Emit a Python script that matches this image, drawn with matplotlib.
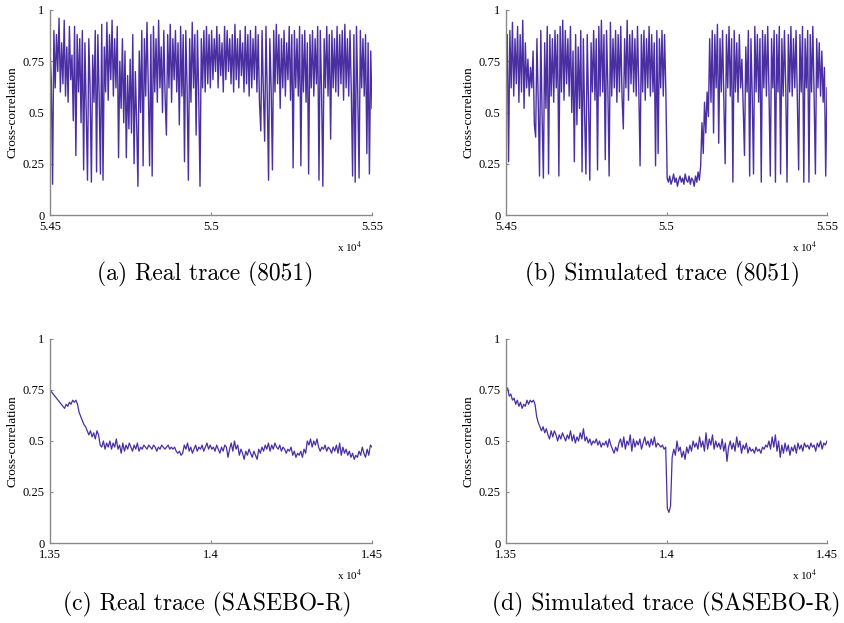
import numpy as np
import matplotlib
matplotlib.use("Agg")
import matplotlib.pyplot as plt

# Trace (a): real 8051, samples 5.45e4 .. 5.55e4
real_8051 = [
    0.80, 0.66, 0.15, 0.90, 0.62, 0.88, 0.70, 0.96, 0.60, 0.84,
    0.64, 0.95, 0.58, 0.82, 0.55, 0.92, 0.66, 0.78, 0.46, 0.92,
    0.29, 0.88, 0.60, 0.86, 0.45, 0.90, 0.22, 0.84, 0.50, 0.17,
    0.86, 0.62, 0.16, 0.78, 0.55, 0.90, 0.21, 0.88, 0.58, 0.20,
    0.93, 0.17, 0.82, 0.60, 0.94, 0.56, 0.88, 0.66, 0.95, 0.58,
    0.86, 0.62, 0.92, 0.28, 0.75, 0.52, 0.86, 0.45, 0.80, 0.28,
    0.68, 0.42, 0.76, 0.40, 0.88, 0.25, 0.70, 0.45, 0.14, 0.80,
    0.50, 0.90, 0.24, 0.86, 0.58, 0.94, 0.62, 0.24, 0.88, 0.19,
    0.92, 0.60, 0.86, 0.55, 0.95, 0.62, 0.82, 0.50, 0.90, 0.58,
    0.39, 0.88, 0.62, 0.93, 0.55, 0.86, 0.66, 0.90, 0.60, 0.84,
    0.44, 0.92, 0.58, 0.88, 0.26, 0.90, 0.62, 0.17, 0.86, 0.55,
    0.94, 0.62, 0.88, 0.39, 0.90, 0.58, 0.14, 0.86, 0.62, 0.90,
    0.60, 0.92, 0.64, 0.88, 0.62, 0.90, 0.66, 0.86, 0.70, 0.92,
    0.62, 0.88, 0.68, 0.84, 0.60, 0.92, 0.66, 0.90, 0.70, 0.86,
    0.64, 0.88, 0.60, 0.93, 0.66, 0.86, 0.62, 0.90, 0.68, 0.84,
    0.60, 0.92, 0.64, 0.88, 0.58, 0.90, 0.62, 0.86, 0.66, 0.92,
    0.60, 0.88, 0.55, 0.41, 0.90, 0.60, 0.36, 0.92, 0.58, 0.17,
    0.86, 0.62, 0.22, 0.90, 0.60, 0.93, 0.64, 0.88, 0.52, 0.86,
    0.62, 0.90, 0.58, 0.84, 0.66, 0.92, 0.56, 0.88, 0.23, 0.90,
    0.62, 0.86, 0.58, 0.92, 0.24, 0.88, 0.60, 0.90, 0.55, 0.84,
    0.20, 0.88, 0.62, 0.90, 0.58, 0.86, 0.64, 0.92, 0.17, 0.90,
    0.60, 0.14, 0.86, 0.62, 0.92, 0.58, 0.88, 0.37, 0.90, 0.62,
    0.86, 0.60, 0.92, 0.58, 0.88, 0.64, 0.90, 0.56, 0.93, 0.62,
    0.86, 0.58, 0.90, 0.60, 0.19, 0.88, 0.16, 0.92, 0.58, 0.18,
    0.90, 0.62, 0.86, 0.58, 0.88, 0.30, 0.84, 0.20, 0.80, 0.52,
]

# Trace (b): simulated 8051
sim_8051 = [
    0.70, 0.88, 0.26, 0.90, 0.62, 0.94, 0.58, 0.86, 0.64, 0.92,
    0.55, 0.88, 0.60, 0.95, 0.52, 0.84, 0.62, 0.76, 0.58, 0.72,
    0.62, 0.80, 0.44, 0.38, 0.86, 0.55, 0.19, 0.90, 0.48, 0.18,
    0.84, 0.52, 0.92, 0.20, 0.88, 0.58, 0.86, 0.55, 0.90, 0.62,
    0.88, 0.19, 0.92, 0.60, 0.95, 0.56, 0.90, 0.64, 0.86, 0.58,
    0.92, 0.50, 0.80, 0.26, 0.88, 0.44, 0.82, 0.52, 0.90, 0.21,
    0.86, 0.48, 0.20, 0.88, 0.55, 0.17, 0.84, 0.60, 0.90, 0.56,
    0.86, 0.22, 0.92, 0.58, 0.95, 0.60, 0.88, 0.27, 0.90, 0.62,
    0.19, 0.94, 0.58, 0.86, 0.62, 0.90, 0.55, 0.88, 0.60, 0.92,
    0.58, 0.42, 0.86, 0.62, 0.95, 0.56, 0.88, 0.64, 0.90, 0.60,
    0.86, 0.58, 0.92, 0.62, 0.24, 0.88, 0.60, 0.90, 0.56, 0.86,
    0.62, 0.92, 0.58, 0.88, 0.60, 0.84, 0.24, 0.90, 0.30, 0.86,
    0.62, 0.90, 0.58, 0.88, 0.60,
    0.18, 0.16, 0.19, 0.15, 0.17, 0.20, 0.16, 0.18, 0.14, 0.17,
    0.19, 0.16, 0.18, 0.15, 0.20, 0.17, 0.16, 0.19, 0.15, 0.18,
    0.17, 0.14, 0.19, 0.16, 0.21, 0.17,
    0.24, 0.45, 0.30, 0.55, 0.40, 0.60, 0.48, 0.86, 0.55, 0.90,
    0.40, 0.88, 0.62, 0.93, 0.35, 0.86, 0.60, 0.90, 0.55, 0.25,
    0.88, 0.62, 0.92, 0.58, 0.86, 0.16, 0.90, 0.60, 0.84, 0.55,
    0.88, 0.62, 0.76, 0.52, 0.29, 0.82, 0.60, 0.90, 0.19, 0.86,
    0.58, 0.20, 0.92, 0.60, 0.88, 0.55, 0.86, 0.16, 0.90, 0.62,
    0.88, 0.58, 0.92, 0.60, 0.19, 0.86, 0.62, 0.90, 0.16, 0.88,
    0.60, 0.92, 0.20, 0.86, 0.58, 0.90, 0.62, 0.16, 0.88, 0.60,
    0.92, 0.58, 0.86, 0.62, 0.90, 0.56, 0.22, 0.88, 0.60, 0.92,
    0.16, 0.86, 0.62, 0.90, 0.16, 0.88, 0.60, 0.92, 0.58, 0.20,
    0.86, 0.62, 0.84, 0.58, 0.80, 0.55, 0.72, 0.19, 0.62,
]

# Trace (c): real SASEBO-R, samples 1.35e4 .. 1.45e4
real_sasebo = [
    0.75, 0.74, 0.73, 0.72, 0.71, 0.70, 0.69, 0.68, 0.67, 0.66,
    0.68, 0.67, 0.69, 0.68, 0.70, 0.69, 0.70, 0.68, 0.64, 0.62,
    0.60, 0.58, 0.57, 0.55, 0.53, 0.55, 0.52, 0.54, 0.51, 0.55,
    0.53, 0.48, 0.47, 0.50, 0.46, 0.49, 0.47, 0.50, 0.46, 0.49,
    0.47, 0.51, 0.46, 0.48, 0.44, 0.49, 0.45, 0.48, 0.46, 0.49,
    0.47, 0.45, 0.48, 0.46, 0.49, 0.45, 0.47, 0.46, 0.48, 0.47,
    0.46, 0.48, 0.47, 0.46, 0.48, 0.47, 0.45, 0.47, 0.46, 0.48,
    0.47, 0.46, 0.47, 0.48, 0.46, 0.47, 0.46, 0.47, 0.45, 0.44,
    0.45, 0.43, 0.44, 0.48, 0.46, 0.49, 0.45, 0.47, 0.44, 0.46,
    0.48, 0.45, 0.47, 0.46, 0.48, 0.45, 0.47, 0.49, 0.46, 0.48,
    0.46, 0.47, 0.45, 0.48, 0.46, 0.44, 0.47, 0.45, 0.48, 0.47,
    0.42, 0.46, 0.49, 0.45, 0.50, 0.46, 0.48, 0.43, 0.46, 0.44,
    0.41, 0.45, 0.43, 0.46, 0.44, 0.42, 0.45, 0.43, 0.41, 0.46,
    0.44, 0.47, 0.45, 0.48, 0.46, 0.49, 0.45, 0.48, 0.46, 0.49,
    0.47, 0.46, 0.48, 0.45, 0.47, 0.46, 0.44, 0.46, 0.45, 0.47,
    0.43, 0.45, 0.42, 0.44, 0.43, 0.45, 0.42, 0.46, 0.44, 0.50,
    0.48, 0.51, 0.47, 0.50, 0.48, 0.51, 0.47, 0.45, 0.47, 0.46,
    0.48, 0.45, 0.47, 0.46, 0.44, 0.47, 0.45, 0.48, 0.44, 0.49,
    0.43, 0.47, 0.44, 0.46, 0.43, 0.45, 0.42, 0.44, 0.41, 0.43,
    0.42, 0.45, 0.43, 0.47, 0.44, 0.42, 0.46, 0.43, 0.48, 0.47,
]

# Trace (d): simulated SASEBO-R
sim_sasebo = [
    0.75, 0.76, 0.72, 0.73, 0.70, 0.71, 0.68, 0.70, 0.67, 0.69,
    0.66, 0.68, 0.67, 0.70, 0.68, 0.70, 0.69, 0.70, 0.68, 0.62,
    0.59, 0.57, 0.55, 0.57, 0.54, 0.56, 0.53, 0.51, 0.55, 0.52,
    0.55, 0.53, 0.50, 0.53, 0.51, 0.54, 0.52, 0.50, 0.53, 0.51,
    0.55, 0.50, 0.53, 0.49, 0.52, 0.50, 0.54, 0.51, 0.56, 0.50,
    0.52, 0.49, 0.51, 0.48, 0.50, 0.49, 0.51, 0.48, 0.50, 0.47,
    0.49, 0.48, 0.50, 0.47, 0.51, 0.48, 0.46, 0.44, 0.47, 0.45,
    0.49, 0.51, 0.47, 0.52, 0.46, 0.50, 0.48, 0.53, 0.45, 0.51,
    0.47, 0.50, 0.48, 0.51, 0.46, 0.49, 0.52, 0.48, 0.50, 0.47,
    0.51, 0.48, 0.52, 0.47, 0.49, 0.48, 0.47, 0.48, 0.46, 0.47,
    0.17, 0.15, 0.18, 0.42, 0.46, 0.43, 0.50, 0.45, 0.47, 0.42,
    0.45, 0.41, 0.47, 0.44, 0.48, 0.45, 0.50, 0.47, 0.49, 0.46,
    0.52, 0.47, 0.50, 0.45, 0.54, 0.46, 0.51, 0.48, 0.53, 0.46,
    0.50, 0.47, 0.49, 0.46, 0.51, 0.45, 0.49, 0.40, 0.47, 0.50,
    0.46, 0.49, 0.45, 0.52, 0.47, 0.50, 0.44, 0.48, 0.46, 0.49,
    0.44, 0.47, 0.45, 0.46, 0.44, 0.47, 0.45, 0.46, 0.44, 0.47,
    0.46, 0.48, 0.47, 0.50, 0.46, 0.52, 0.47, 0.53, 0.45, 0.50,
    0.42, 0.48, 0.44, 0.49, 0.45, 0.48, 0.43, 0.47, 0.45, 0.48,
    0.44, 0.49, 0.46, 0.48, 0.45, 0.49, 0.47, 0.48, 0.46, 0.49,
    0.47, 0.48, 0.45, 0.49, 0.47, 0.50, 0.46, 0.49, 0.48, 0.50,
]

range_8051 = (54500, 55500)
range_sasebo = (13500, 14500)
xticks_8051 = [54500, 55000, 55500]
xlabels_8051 = ["5.45", "5.5", "5.55"]
xticks_sasebo = [13500, 14000, 14500]
xlabels_sasebo = ["1.35", "1.4", "1.45"]
yticks = [0, 0.25, 0.5, 0.75, 1]
ylabels = ["0", "0.25", "0.5", "0.75", "1"]

captions = [
    "(a) Real trace (8051)",
    "(b) Simulated trace (8051)",
    "(c) Real trace (SASEBO-R)",
    "(d) Simulated trace (SASEBO-R)",
]

W, H = 845, 623
line_col = "#4a2fa3"
spine_col = "#8a8a8a"
tick_font = "Liberation Serif"

fig = plt.figure(figsize=(W / 100, H / 100), dpi=100)

# axes boxes in pixels: left, top, right, bottom
boxes = [(50, 10, 372, 215), (506, 10, 827, 215),
         (50, 339, 372, 543), (506, 339, 827, 543)]
traces = [real_8051, sim_8051, real_sasebo, sim_sasebo]
ranges = [range_8051, range_8051, range_sasebo, range_sasebo]
xt = [xticks_8051, xticks_8051, xticks_sasebo, xticks_sasebo]
xl = [xlabels_8051, xlabels_8051, xlabels_sasebo, xlabels_sasebo]
lws = [1.0, 1.0, 0.9, 0.9]
cap_pos = [(205, 274), (663, 274), (207, 604), (666, 604)]

for k in range(4):
    l, t, r, b = boxes[k]
    ax = fig.add_axes([l / W, 1 - b / H, (r - l) / W, (b - t) / H])
    y = np.array(traces[k])
    x = np.linspace(ranges[k][0], ranges[k][1], len(y))
    ax.plot(x, y, color=line_col, lw=lws[k])

    ax.set_xlim(*ranges[k])
    ax.set_ylim(0, 1)
    ax.set_xticks(xt[k])
    ax.set_xticklabels(xl[k], fontfamily=tick_font, fontsize=9)
    ax.set_yticks(yticks)
    ax.set_yticklabels(ylabels, fontfamily=tick_font, fontsize=9)
    ax.tick_params(direction="in", length=2.5, width=0.8, color=spine_col, pad=4)
    for s in ["top", "right"]:
        ax.spines[s].set_visible(False)
    for s in ["left", "bottom"]:
        ax.spines[s].set_color(spine_col)
        ax.spines[s].set_linewidth(1.0)
    ax.set_ylabel("Cross-correlation", fontfamily=tick_font, fontsize=9.5, labelpad=3)
    ax.text(0.97, -0.12, r"x 10$^4$", transform=ax.transAxes, ha="right", va="top",
            fontsize=8, fontfamily=tick_font, math_fontfamily="stix")

    cx, cy = cap_pos[k]
    fig.text(cx / W, 1 - cy / H, captions[k], ha="center", va="center",
             fontfamily="cmr10", fontsize=17)

fig.savefig("out.png", dpi=100)
plt.close(fig)
